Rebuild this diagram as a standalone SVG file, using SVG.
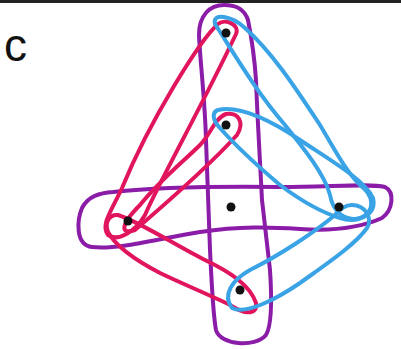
<svg xmlns="http://www.w3.org/2000/svg" width="401" height="349" viewBox="0 0 401 349">
<style>
.e{fill:none;stroke-width:4;stroke-linecap:round;stroke-linejoin:round}
.p{stroke:#8A1CA8}
.r{stroke:#E1155E}
.b{stroke:#3AA3E6}
.n{fill:#111}
</style>
<rect width="401" height="349" fill="#fff"/>
<line x1="0" y1="1.5" x2="401" y2="1.5" stroke="#222" stroke-width="3"/>
<text x="4" y="61" font-family="Liberation Sans, Arial, sans-serif" font-size="46" fill="#111">c</text>
<g id="hyperedges">
<path class="e p" d="M224,5 C210,5 199,15 199,35 C200,60 205,100 206,140 L210,250 C212,290 213,315 216,330 C220,345 255,348 266,335 C272,325 272,300 270,270 L262,200 C260,160 257,110 256,80 C254,50 250,30 248,20 C244,8 235,5 224,5 Z"/>
<path class="e p" d="M113,192 C150,188 200,186 280,187 C330,187 370,183 385,187 C395,192 393,210 382,218 C360,228 330,231 300,229 C270,227 240,226 200,232 C160,238 120,250 92,247 C75,245 77,220 82,208 C88,196 100,193 113,192 Z"/>
<path class="e r" d="M218,24 C200,40 150,120 122,188 C112,210 100,225 108,235 C118,242 135,232 145,215 C160,180 200,110 236,34 C240,25 226,18 218,24 Z"/>
<path class="e r" d="M226,114 C215,118 210,135 200,145 C185,160 160,180 140,205 C120,225 120,235 135,230 C170,200 210,165 237,135 C245,122 238,112 226,114 Z"/>
<path class="e r" d="M118,215 C140,222 175,245 205,260 C230,272 250,285 256,303 C258,315 245,315 230,305 C210,295 185,285 160,273 C135,260 115,245 108,232 C104,222 110,214 118,215 Z"/>
<path class="e b" d="M215,24 C235,55 255,90 285,125 C305,150 325,175 330,195 C333,212 345,222 360,218 C376,212 374,195 360,185 C345,170 335,150 320,125 C300,95 275,55 245,28 C232,16 212,12 215,24 Z"/>
<path class="e b" d="M218,110 C240,105 270,120 300,140 C330,160 365,180 373,198 C377,215 358,224 340,218 C320,212 300,200 280,185 C260,168 235,145 220,128 C212,120 212,112 218,110 Z"/>
<path class="e b" d="M335,215 C315,232 280,255 250,270 C232,280 222,295 232,308 C245,315 275,300 300,283 C325,265 355,245 367,228 C373,218 365,205 352,205 C344,205 340,210 335,215 Z"/>
</g>
<g id="n1"><circle class="n" cx="226" cy="33" r="4.5"/></g>
<g id="n2"><circle class="n" cx="226" cy="125" r="4.5"/></g>
<g id="n3"><circle class="n" cx="231" cy="207" r="4.5"/></g>
<g id="n4"><circle class="n" cx="128" cy="221" r="4.5"/></g>
<g id="n5"><circle class="n" cx="339" cy="207" r="4.5"/></g>
<g id="n6"><circle class="n" cx="240" cy="290" r="4.5"/></g>
</svg>
